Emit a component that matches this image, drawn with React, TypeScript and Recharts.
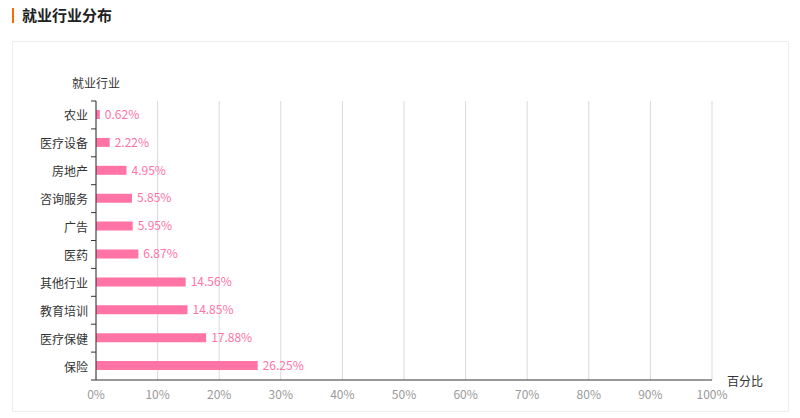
import { BarChart, Bar, XAxis, YAxis, CartesianGrid, LabelList } from "recharts";

const industries = ["农业", "医疗设备", "房地产", "咨询服务", "广告", "医药", "其他行业", "教育培训", "医疗保健", "保险"];
const shares = [0.62, 2.22, 4.95, 5.85, 5.95, 6.87, 14.56, 14.85, 17.88, 26.25];
const percentTicks = [0, 10, 20, 30, 40, 50, 60, 70, 80, 90, 100];

const data = industries.map((name, i) => ({ name, value: shares[i] }));

const FONT = '"Microsoft YaHei", "Noto Sans CJK SC", sans-serif';
const W = 800;
const H = 418;
const margin = { top: 101, right: 88, bottom: 8, left: 16 };
const xAxisHeight = 30;
const plotHeight = H - margin.top - margin.bottom - xAxisHeight;
const band = plotHeight / industries.length;

const CategoryTick = (props: any) => {
  const { x, y, payload, index } = props;
  const top = y - band / 2;
  return (
    <g>
      <line x1={x + 3} x2={x + 8} y1={top} y2={top} stroke="#333" />
      {index === industries.length - 1 && (
        <line x1={x + 3} x2={x + 8} y1={top + band} y2={top + band} stroke="#333" />
      )}
      <text x={x} y={y} textAnchor="end" dominantBaseline="central" fill="#333" fontSize={12} fontFamily={FONT}>
        {payload.value}
      </text>
    </g>
  );
};

export default function App() {
  return (
    <div style={{ position: "fixed", left: 0, top: 0, width: W, height: H, background: "#fff", fontFamily: FONT }}>
      <div style={{ position: "absolute", left: 12, top: 8, width: 2, height: 15, background: "#ff6a00" }} />
      <div style={{ position: "absolute", left: 22, top: 4, fontSize: 15, fontWeight: "bold", color: "#222", lineHeight: "22px" }}>
        就业行业分布
      </div>
      <div style={{ position: "absolute", left: 12, top: 41, width: 777, height: 371, border: "1px solid #eee", boxSizing: "border-box" }} />
      <div style={{ position: "absolute", left: 0, top: 0 }}>
        <BarChart width={W} height={H} data={data} layout="vertical" margin={margin}>
          <CartesianGrid horizontal={false} stroke="#d9d9d9" />
          <XAxis
            type="number"
            domain={[0, 100]}
            ticks={percentTicks}
            interval={0}
            height={xAxisHeight}
            tickFormatter={(v) => `${v}%`}
            tickLine={false}
            tickMargin={4}
            axisLine={{ stroke: "#333" }}
            tick={{ fill: "#999", fontSize: 12, fontFamily: FONT }}
            label={{
              content: (p: any) => (
                <text x={p.viewBox.x + p.viewBox.width + 15} y={p.viewBox.y} dominantBaseline="central" fill="#333" fontSize={12} fontFamily={FONT}>
                  百分比
                </text>
              ),
            }}
          />
          <YAxis
            type="category"
            dataKey="name"
            width={80}
            tickLine={false}
            tickSize={5}
            tickMargin={3}
            axisLine={{ stroke: "#333" }}
            tick={<CategoryTick />}
            interval={0}
            label={{
              content: (p: any) => (
                <text x={p.viewBox.x + p.viewBox.width} y={p.viewBox.y - 19} textAnchor="middle" dominantBaseline="central" fill="#333" fontSize={12} fontFamily={FONT}>
                  就业行业
                </text>
              ),
            }}
          />
          <Bar dataKey="value" fill="#ff73a5" barSize={9} isAnimationActive={false}>
            <LabelList
              dataKey="value"
              position="right"
              offset={5}
              formatter={(v: any) => `${v}%`}
              fill="#ff73a5"
              fontSize={12}
              fontFamily={FONT}
            />
          </Bar>
        </BarChart>
      </div>
    </div>
  );
}
